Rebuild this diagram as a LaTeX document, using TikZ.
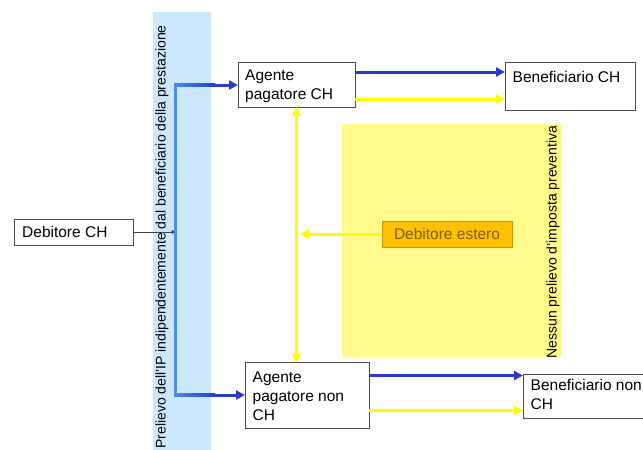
\documentclass[tikz,border=0pt]{standalone}
\usepackage{fontspec}
\setmainfont{Liberation Sans}
\usetikzlibrary{arrows.meta}
\definecolor{bandblue}{HTML}{CCE8FF}
\definecolor{lineblue}{HTML}{4A90E2}
\definecolor{darkblue}{HTML}{2A3BCB}
\definecolor{ylw}{HTML}{FFFF00}
\definecolor{paleylw}{HTML}{FFFA8C}
\definecolor{orng}{HTML}{FFC000}
\definecolor{orngdraw}{HTML}{C99700}
\definecolor{olive}{HTML}{7F6000}
\begin{document}
\begin{tikzpicture}[x=1pt,y=-1pt,
  boxline/.style={draw=black!70,fill=white,line width=0.9pt},
  txt/.style={anchor=north west,align=left,inner sep=0pt,font=\fontsize{15.5}{19}\selectfont},
  barr/.style={draw=darkblue,line width=3pt,-{Triangle[length=9pt,width=9pt]}},
  yarr/.style={draw=ylw,line width=3pt,-{Triangle[length=9pt,width=9pt]}},
  vtext/.style={rotate=90,inner sep=0pt,font=\fontsize{14}{16}\selectfont}]
\useasboundingbox (0,0) rectangle (643,450);
% band
\fill[bandblue] (153,12) rectangle (211,450);
\node[vtext] (bandtext) at (162,237) {Prelievo dell’IP indipendentemente dal beneficiario della prestazione};
% yellow area
\fill[paleylw] (342,124) rectangle (562,357);
\node[vtext] (ytext) at (553,242) {Nessun prelievo d’imposta preventiva};
% boxes
\draw[boxline] (238,62) rectangle (355,107);
\node[txt] (apch) at (245,70) {Agente\\pagatore CH};
\draw[boxline] (505,62) rectangle (635,110);
\node[txt] (bch) at (512.5,71.5) {Beneficiario CH};
\draw[boxline] (14,219) rectangle (133,245);
\node[anchor=west,inner sep=0pt,font=\fontsize{15.5}{19}\selectfont] (dch) at (22,232) {Debitore CH};
\draw[boxline] (245,362.5) rectangle (369,428);
\node[txt] (apnch) at (252.5,371.5) {Agente\\pagatore non\\CH};
\draw[boxline] (523,374) rectangle (650,418);
\node[txt] (bnch) at (530.5,379) {Beneficiario non\\CH};
\node[draw=orngdraw,fill=orng,line width=0.9pt,minimum width=130pt,minimum height=26pt,inner sep=0pt,text=olive,font=\fontsize{15.5}{19}\selectfont] (dest) at (447,234) {Debitore estero};
% connectors
\coordinate (vtop) at (175.5,85);
\coordinate (vbot) at (175.5,395);
\coordinate (vmid) at (175.5,232);
\draw[line width=0.9pt,draw=black!75,-{Triangle[length=4pt,width=4pt]}] (133,232) -- (vmid);
\draw[barr] (vtop) -- (238,85);
\draw[barr] (vbot) -- (245,395);
\shade[left color=lineblue,right color=darkblue] (174,83.5) rectangle (215,86.5);
\shade[left color=lineblue,right color=darkblue] (174,393.5) rectangle (215,396.5);
\draw[lineblue,line width=3pt] (vbot) -- (vtop);
\draw[barr] (355,72) -- (505,72);
\draw[yarr] (355,99) -- (505,99);
\draw[barr] (369,375.5) -- (523,375.5);
\draw[yarr] (369,410.5) -- (523,410.5);
\draw[draw=ylw,line width=3pt,{Triangle[length=9pt,width=9pt]}-{Triangle[length=9pt,width=9pt]}] (296.5,107) -- (296.5,362.5);
\draw[yarr] (dest.west) -- (300,234);
\end{tikzpicture}
\end{document}
